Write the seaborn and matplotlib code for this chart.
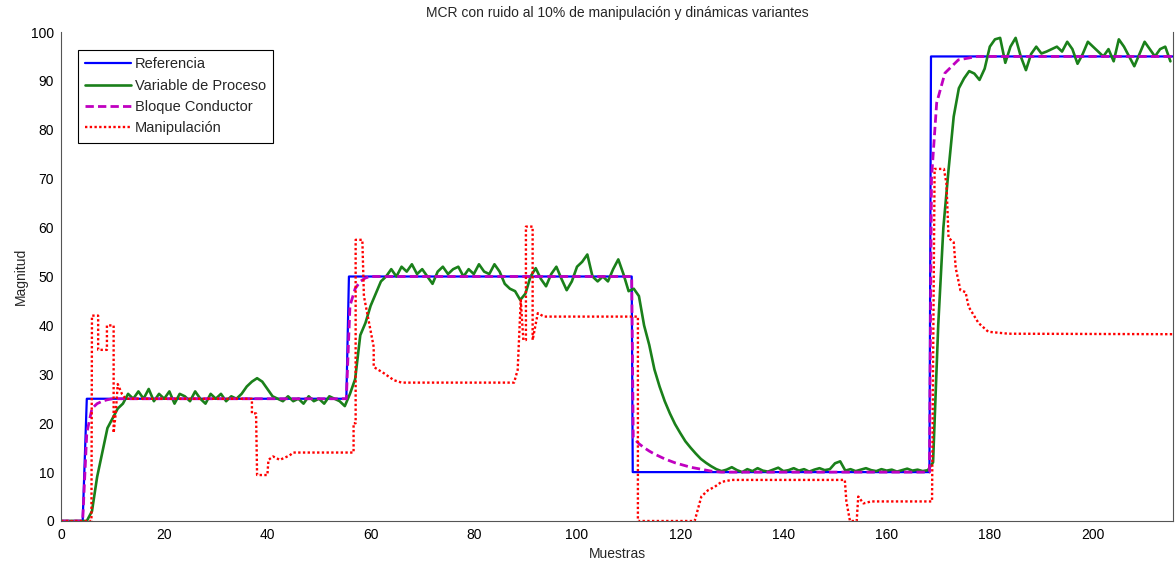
import numpy as np
import pandas as pd
import matplotlib
matplotlib.use("Agg")
import matplotlib.pyplot as plt
import seaborn as sns

# ---------------- data ----------------
ref_x = [0, 4.2, 5.0, 55.3, 55.8, 110.6, 110.8, 168.3, 168.6, 215.5]
ref_y = [0, 0, 25, 25, 50, 50, 10, 10, 95, 95]

pv_y = [
    0, 0, 0, 0, 0, 0, 2, 9, 14, 19,                       # 0-9
    21, 23, 24, 26, 25, 26.5, 25, 27, 24.5, 26,           # 10-19
    25, 26.5, 24, 26, 25.5, 24.5, 26.5, 25, 24, 26,       # 20-29
    25, 26, 24.5, 25.5, 25, 26, 27.5, 28.5, 29.2, 28.5,   # 30-39
    27, 25.5, 25, 24.5, 25.5, 24.5, 25, 24, 25.5, 24.5,   # 40-49
    25, 24, 25.5, 25, 24.5, 23.5, 26, 29, 38, 40.5,       # 50-59
    44, 46.5, 49, 50, 51.5, 50, 52, 51, 52.5, 50.5,       # 60-69
    51.5, 50, 48.5, 51, 52, 50.5, 51.5, 52, 50, 51.5,     # 70-79
    50.5, 52.5, 51, 50.5, 52.5, 51, 48.5, 47.5, 47, 45.2, # 80-89
    46.5, 50, 51.7, 49.5, 48, 50.5, 52, 49.5, 47.2, 49,   # 90-99
    52, 53, 54.5, 50, 49, 50, 49, 51.5, 53.5, 50.5,       # 100-109
    47, 47.5, 46, 40, 36, 31, 27.5, 24.5, 22, 19.8,       # 110-119
    18, 16.3, 15, 13.8, 12.7, 11.9, 11.2, 10.6, 10.2, 10.5, # 120-129
    11, 10.4, 10, 10.6, 10.2, 10.8, 10.3, 10.1, 10.5, 10.9, # 130-139
    10.2, 10.4, 10.8, 10.3, 10.6, 10.1, 10.5, 10.8, 10.4, 10.6, # 140-149
    11.8, 12.2, 10.3, 10.6, 10.2, 10.5, 10.8, 10.4, 10.2, 10.6, # 150-159
    10.3, 10.5, 10.1, 10.4, 10.7, 10.3, 10.5, 10.2, 10.4, 12,   # 160-169
    40, 60, 71.8, 82.7, 88.5, 90.5, 92, 91.5, 90.2, 92.5, # 170-179
    97, 98.5, 98.8, 93.7, 97, 98.8, 95, 92.2, 95.5, 97,   # 180-189
    95.6, 96, 96.5, 97, 96, 98, 96.5, 93.5, 95.5, 98,     # 190-199
    97, 96, 95, 96.5, 94, 98.5, 97, 95, 93, 95.5,         # 200-209
    98, 96.5, 95, 96.5, 97, 94,                           # 210-215
]
pv_x = list(range(len(pv_y)))

cond_x = [0, 4.2, 5, 6, 7, 8, 9, 10, 55.3, 56, 57, 58, 59, 60,
          110.6, 110.9, 112, 113, 114, 115, 116, 117, 118, 119, 120,
          121, 122, 123, 124, 125, 126, 127, 128,
          168.3, 168.7, 169.7, 171.3, 173.9, 177.6, 215.5]
cond_y = [0, 0, 18, 23, 24, 24.5, 24.8, 25, 25, 44, 47.5, 49, 49.7, 50,
          50, 17, 15.8, 15, 14.3, 13.7, 13.2, 12.7, 12.3, 11.9, 11.6,
          11.3, 11, 10.8, 10.6, 10.4, 10.2, 10.1, 10,
          10, 70, 85.5, 91.6, 94.3, 95, 95]

man_x = [0, 5.9, 6.0, 7.2, 7.2, 8.9, 8.9, 10.2, 10.2, 10.6,
         11.0, 11.8, 12.5, 37.0, 37.0, 37.8, 38.0, 40.0, 40.2, 41.1,
         42.4, 44.3, 45.0, 56.7, 56.7, 57.1, 57.1, 58.4, 58.7, 60.6,
         60.6, 62.6, 64.5, 66.0, 87.8, 88.5, 89.1, 89.6, 90.1, 90.1,
         91.4, 91.4, 92.4, 93.6, 111.8, 111.8, 122.8, 124.1, 125.4, 126.7,
         128.0, 130.0, 151.9, 152.2, 152.9, 154.2, 154.5, 155.5, 157.0, 168.8,
         169.3, 171.1, 171.6, 172.0, 173.0, 173.4, 174.3, 175.3, 175.9, 177.8,
         179.7, 183.6, 215.5]
man_y = [0, 0, 42, 42, 35, 35, 40, 40, 18, 22,
         28, 26, 25, 25, 22, 22, 9.4, 9.4, 12.5, 13.2,
         12.5, 13.4, 14, 14, 20, 20, 57.5, 57.5, 46, 35.6,
         31.5, 30.2, 28.8, 28.3, 28.3, 30.9, 45.2, 37, 37, 60.2,
         60.2, 37, 42.5, 41.8, 41.8, 0, 0, 5, 6.3, 7,
         8, 8.4, 8.4, 4, 0, 0, 5, 3.6, 4, 4,
         72, 72, 69, 57.9, 57, 51.7, 47.2, 46.8, 43.8, 40.5,
         38.7, 38.3, 38.2]

labels = ["Referencia", "Variable de Proceso", "Bloque Conductor", "Manipulación"]
x_ticks = [0, 20, 40, 60, 80, 100, 120, 140, 160, 180, 200]
y_ticks = [0, 10, 20, 30, 40, 50, 60, 70, 80, 90, 100]

# ---------------- style ----------------
sns.set_theme(style="white")
plt.rcParams["font.family"] = ["Liberation Sans", "DejaVu Sans"]
plt.rcParams["font.size"] = 10

fig = plt.figure(figsize=(11.76, 5.67), dpi=100)
ax = fig.add_axes([61 / 1176, 1 - 521 / 567, (1173 - 61) / 1176, (521 - 32) / 567])

sns.lineplot(x=ref_x, y=ref_y, ax=ax, color="#0000ff", linewidth=1.6,
             estimator=None, sort=False, label=labels[0])
sns.lineplot(x=pv_x, y=pv_y, ax=ax, color="#1a801a", linewidth=1.9,
             estimator=None, sort=False, label=labels[1])
sns.lineplot(x=cond_x, y=cond_y, ax=ax, color="#c000c0", linewidth=2.0,
             linestyle=(0, (3, 1.5)), estimator=None, sort=False, label=labels[2])
sns.lineplot(x=man_x, y=man_y, ax=ax, color="#ff0000", linewidth=1.7,
             linestyle=(0, (1, 1)), estimator=None, sort=False, label=labels[3])

ax.set_xlim(0, 215.5)
ax.set_ylim(0, 100)
ax.set_xticks(x_ticks)
ax.set_yticks(y_ticks)
ax.tick_params(direction="in", length=4, width=0.8, colors="#222222",
               labelsize=10, labelcolor="black", pad=5)
for side in ["left", "bottom", "right"]:
    ax.spines[side].set_color("#555555")
    ax.spines[side].set_linewidth(0.8)
ax.spines["top"].set_visible(False)

ax.set_title("MCR con ruido al 10% de manipulación y dinámicas variantes",
             fontsize=10, pad=11)
ax.set_xlabel("Muestras", fontsize=10, labelpad=4)
ax.set_ylabel("Magnitud", fontsize=10, labelpad=2)

leg = ax.legend(loc="upper left", bbox_to_anchor=(0.0153, 0.963),
                frameon=True, fancybox=False, edgecolor="black",
                framealpha=1, fontsize=10.5, handlelength=3.1,
                labelspacing=0.5, borderpad=0.5, handletextpad=0.3,
                borderaxespad=0)
leg.get_frame().set_linewidth(0.8)

fig.savefig("out.png", dpi=100, facecolor="white")
